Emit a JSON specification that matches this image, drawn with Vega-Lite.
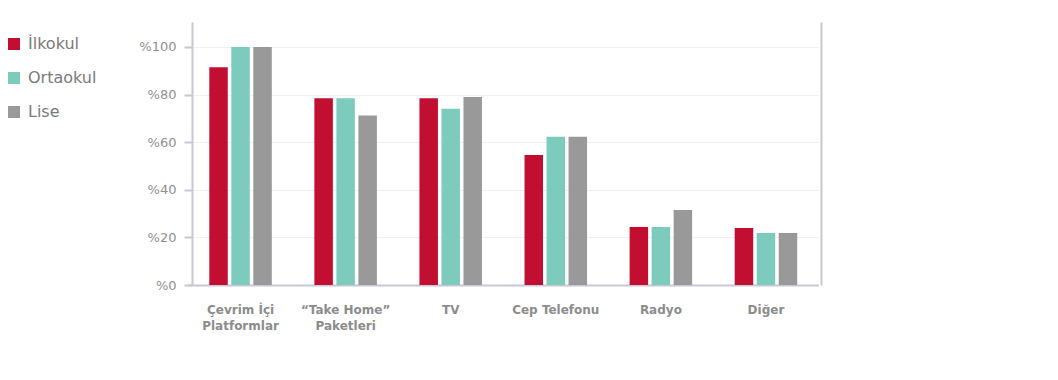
{
  "$schema": "https://vega.github.io/schema/vega-lite/v6.json",
  "width": 629,
  "height": 263,
  "autosize": {"type": "none"},
  "padding": {"left": 192, "top": 22, "right": 237, "bottom": 95},
  "config": {
    "font": "DejaVu Sans",
    "view": {"stroke": null},
    "axis": {"labelColor": "#8f8f8f", "domainColor": "#c9c7d6", "tickColor": "#c9c7d6", "gridColor": "#f0f0f0", "domainWidth": 2, "tickWidth": 2}
  },
  "data": {
    "values": [
      {"category": "Çevrim İçi|Platformlar", "level": "İlkokul", "value": 91.5},
      {"category": "Çevrim İçi|Platformlar", "level": "Ortaokul", "value": 100},
      {"category": "Çevrim İçi|Platformlar", "level": "Lise", "value": 100},
      {"category": "“Take Home”|Paketleri", "level": "İlkokul", "value": 78.5},
      {"category": "“Take Home”|Paketleri", "level": "Ortaokul", "value": 78.5},
      {"category": "“Take Home”|Paketleri", "level": "Lise", "value": 71.2},
      {"category": "TV", "level": "İlkokul", "value": 78.5},
      {"category": "TV", "level": "Ortaokul", "value": 74},
      {"category": "TV", "level": "Lise", "value": 79},
      {"category": "Cep Telefonu", "level": "İlkokul", "value": 54.6},
      {"category": "Cep Telefonu", "level": "Ortaokul", "value": 62.3},
      {"category": "Cep Telefonu", "level": "Lise", "value": 62.3},
      {"category": "Radyo", "level": "İlkokul", "value": 24.4},
      {"category": "Radyo", "level": "Ortaokul", "value": 24.4},
      {"category": "Radyo", "level": "Lise", "value": 31.5},
      {"category": "Diğer", "level": "İlkokul", "value": 24},
      {"category": "Diğer", "level": "Ortaokul", "value": 21.8},
      {"category": "Diğer", "level": "Lise", "value": 21.8}
    ]
  },
  "encoding": {
    "x": {
      "field": "category", "type": "nominal", "sort": null, "title": null,
      "scale": {"range": [-4, 626.5], "paddingInner": 0, "paddingOuter": 0},
      "axis": {"labelAngle": 0, "ticks": false, "labelExpr": "split(datum.label, '|')", "labelPadding": 19, "labelFontSize": 12, "labelFontWeight": 600, "labelLineHeight": 16, "labelColor": "#8c8c8c", "domain": true}
    },
    "xOffset": {"field": "level", "type": "nominal", "sort": ["İlkokul", "Ortaokul", "Lise"], "scale": {"paddingInner": 0.16, "paddingOuter": 0.967}},
    "y": {
      "field": "value", "type": "quantitative", "title": null,
      "scale": {"domain": [0, 110.5], "nice": false}
    },
    "color": {
      "field": "level", "type": "nominal", "sort": ["İlkokul", "Ortaokul", "Lise"],
      "scale": {"domain": ["İlkokul", "Ortaokul", "Lise"], "range": ["#c20e30", "#7dcbbd", "#999999"]},
      "legend": {"title": null, "orient": "none", "legendX": -186, "legendY": 14, "symbolType": "square", "symbolSize": 144, "symbolStrokeWidth": 0, "symbolOpacity": 1, "labelFontSize": 16, "labelColor": "#7a7a7a", "labelOffset": 6, "rowPadding": 18, "labelFont": "DejaVu Sans"}
    }
  },
  "layer": [
    {
      "mark": {"type": "bar"},
      "encoding": {
        "y": {
          "field": "value", "type": "quantitative", "title": null,
          "axis": {"values": [0, 20, 40, 60, 80, 100], "labelExpr": "'%' + datum.value", "labelFontSize": 13, "labelPadding": 8, "tickSize": 8, "grid": true, "labelColor": "#909090"}
        }
      }
    },
    {
      "mark": {"type": "bar", "opacity": 0},
      "encoding": {
        "y": {
          "field": "value", "type": "quantitative", "title": null,
          "axis": {"orient": "right", "labels": false, "ticks": false, "grid": false}
        },
        "color": {"value": "transparent"}
      }
    }
  ],
  "resolve": {"axis": {"y": "independent"}}
}
